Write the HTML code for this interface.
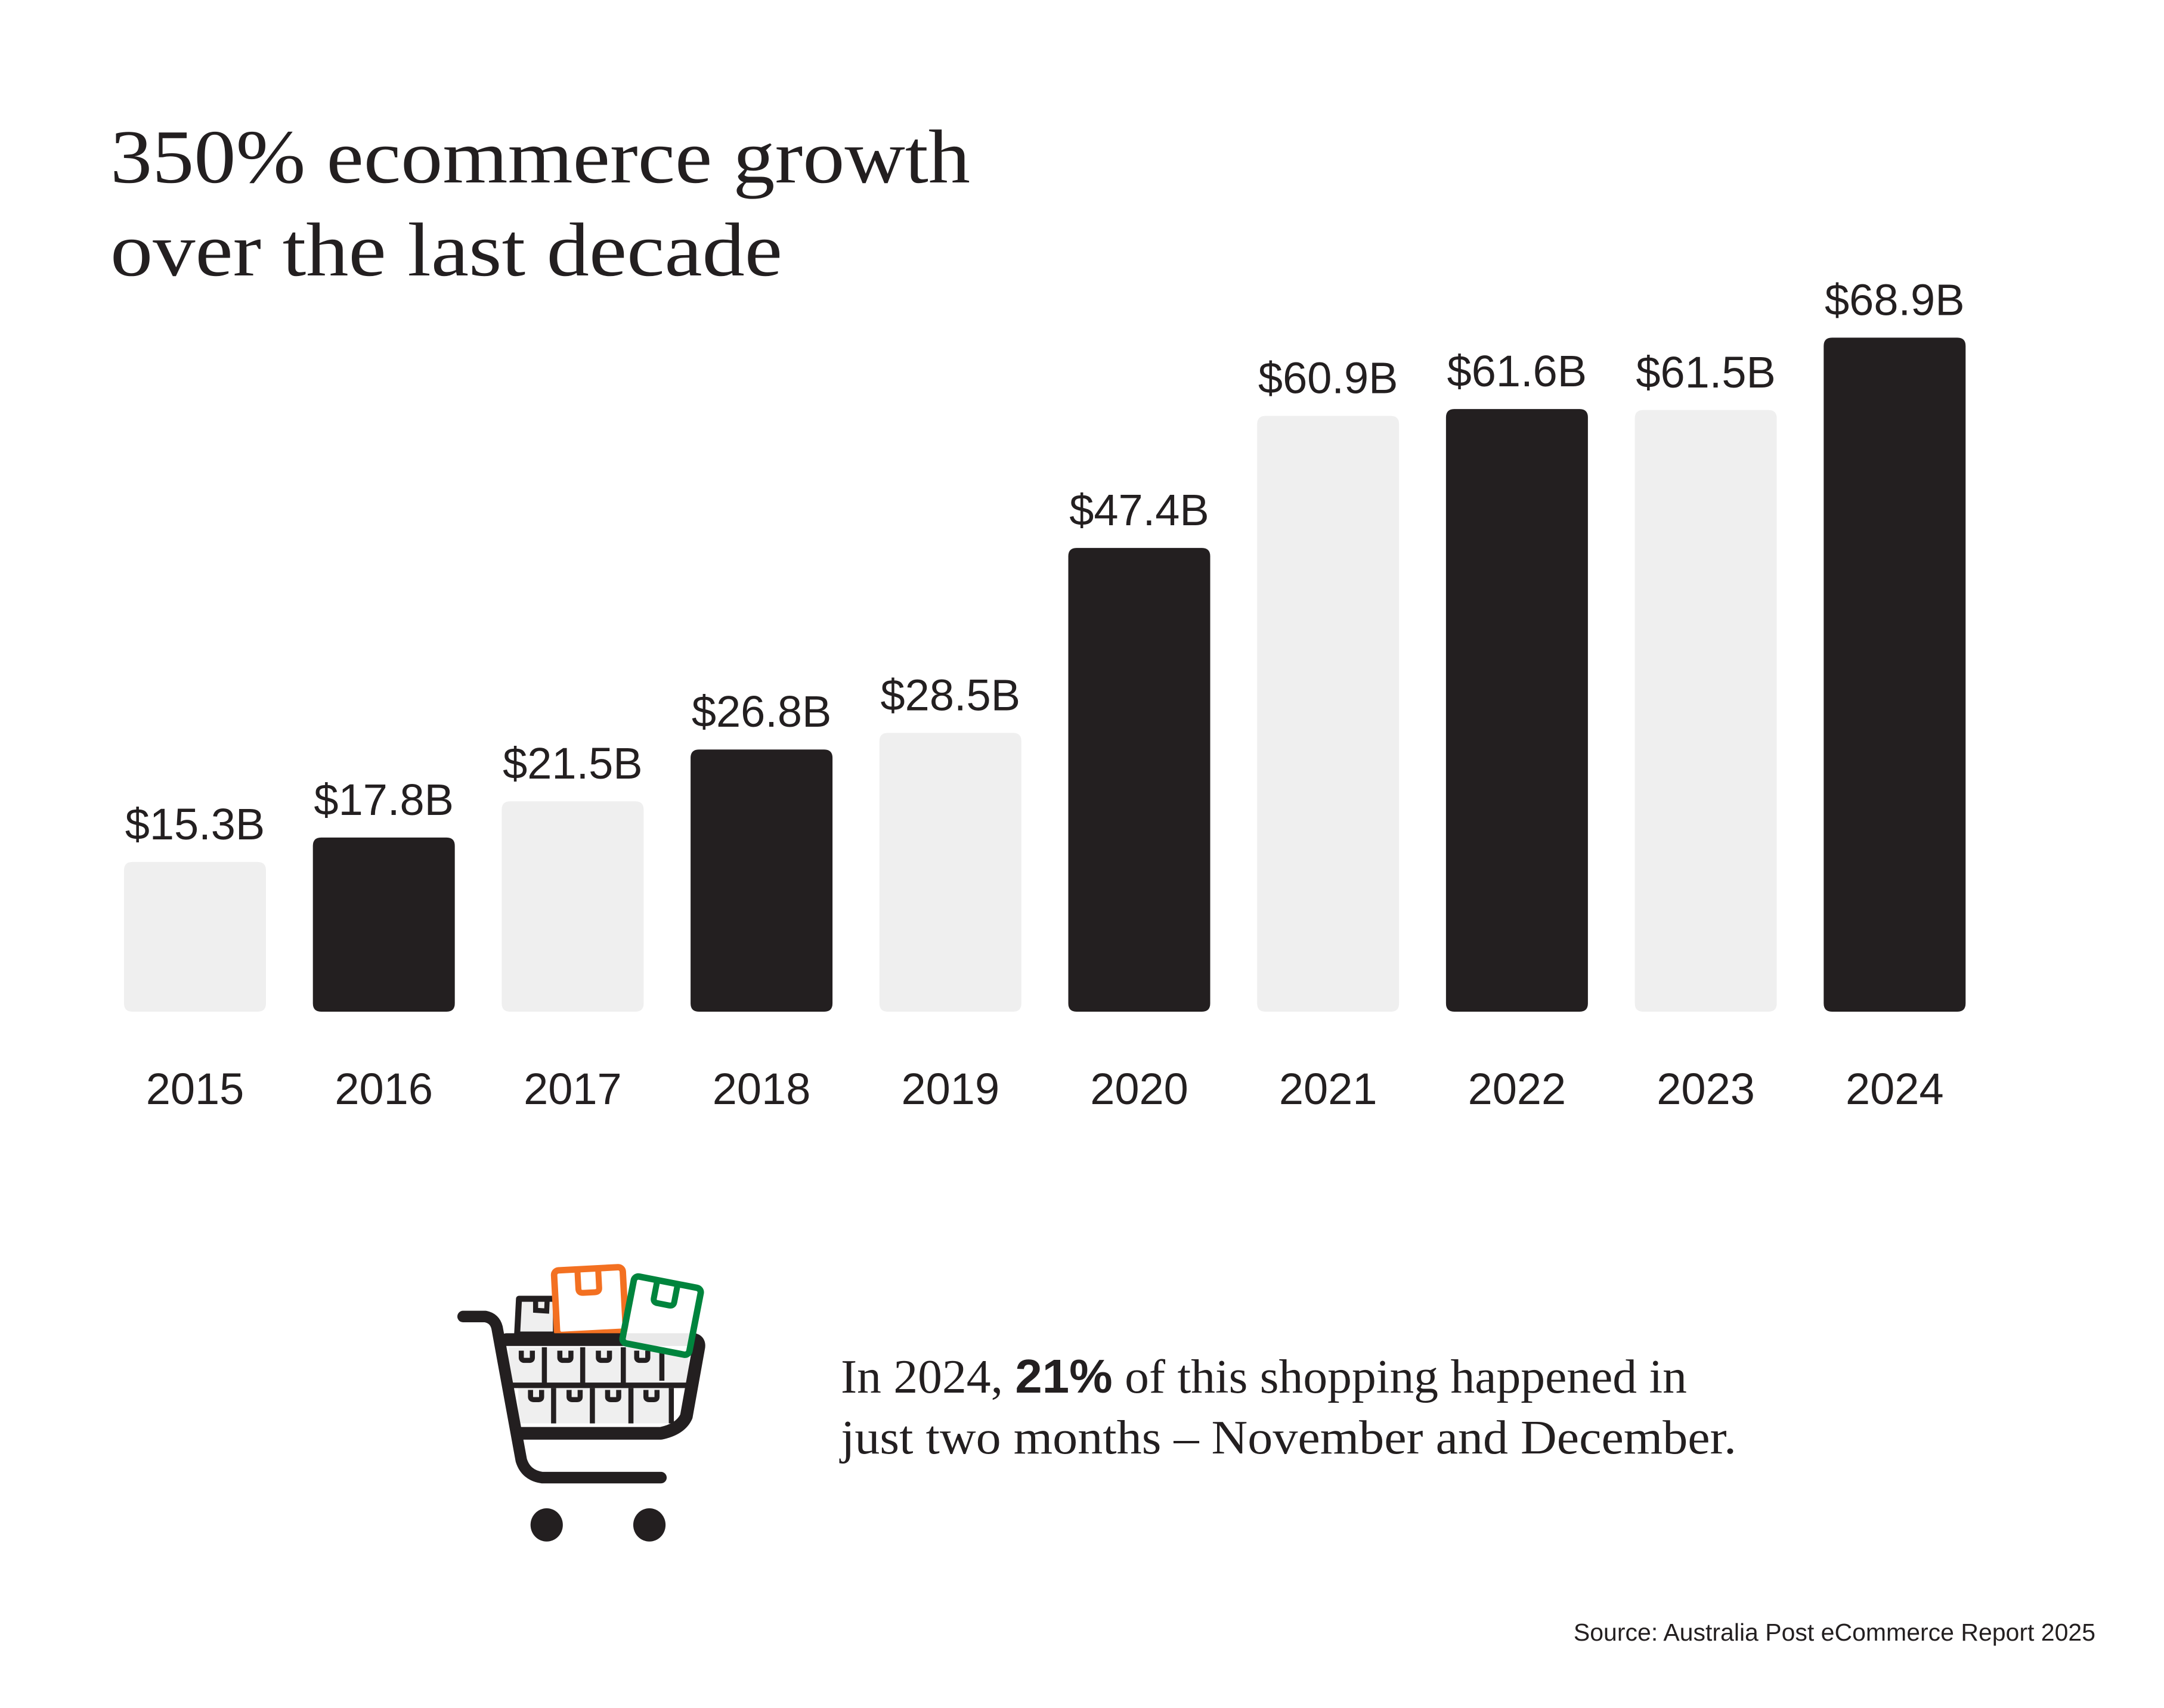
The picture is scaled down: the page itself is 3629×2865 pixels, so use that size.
<!DOCTYPE html>
<html><head><meta charset="utf-8"><style>
html,body{margin:0;padding:0;background:#fff}
svg{display:block}
</style></head><body>
<svg id="chart" width="3629" height="2865" viewBox="0 0 3629 2865" xmlns="http://www.w3.org/2000/svg">
<rect width="3629" height="2865" fill="#fff"/>
<g font-family="Liberation Serif, serif" fill="#231f20" font-size="128">
<text x="185" y="306" textLength="1442" lengthAdjust="spacingAndGlyphs">350% ecommerce growth</text>
<text x="185" y="462" textLength="1127" lengthAdjust="spacingAndGlyphs">over the last decade</text>
</g>
<g id="bars"></g>
<g transform="translate(700,2045) scale(0.3871)">
<path d="M440,345 L600,345 L600,500 L432,500 Z" fill="#efefef" stroke="#231f20" stroke-width="26" stroke-linejoin="round"/>
<path d="M512,345 L512,395 L560,398 L562,350" fill="none" stroke="#231f20" stroke-width="22"/>
<g transform="rotate(-3 745 350)">
<rect x="598" y="215" width="298" height="280" rx="20" fill="#fff" stroke="#f37021" stroke-width="28"/>
<path d="M700,215 L700,300 Q700,318 720,318 L770,318 Q790,318 790,300 L790,215" fill="none" stroke="#f37021" stroke-width="26"/>
</g>
<rect x="395" y="555" width="780" height="155" fill="#efefef"/>
<rect x="437" y="732" width="672" height="153" fill="#efefef"/>
<g stroke="#231f20" stroke-width="22" fill="none">
<path d="M550,555 L550,710 M716,555 L716,710 M892,555 L892,710 M1059,555 L1059,700 M590,732 L590,885 M758,732 L758,885 M925,732 L925,885 M1100,732 L1100,885"/>
<path d="M400,720 L1170,720" stroke-width="24"/>
<path d="M450,570 L450,600 Q450,612 465,612 L485,612 Q498,612 498,600 L498,570 M617,570 L617,600 Q617,612 632,612 L652,612 Q665,612 665,600 L665,570 M784,570 L784,600 Q784,612 799,612 L819,612 Q832,612 832,600 L832,570 M950,570 L950,600 Q950,612 965,612 L985,612 Q998,612 998,600 L998,570"/>
<path d="M490,740 L490,770 Q490,782 505,782 L525,782 Q538,782 538,770 L538,740 M657,740 L657,770 Q657,782 672,782 L692,782 Q705,782 705,770 L705,740 M824,740 L824,770 Q824,782 839,782 L859,782 Q872,782 872,770 L872,740 M990,740 L990,770 Q990,782 1005,782 L1025,782 Q1038,782 1038,770 L1038,740"/>
</g>
<g stroke="#231f20" stroke-linecap="round" stroke-linejoin="round" fill="none">
<path d="M198,422 L295,422 Q335,430 345,470 L450,1045 Q470,1110 540,1120 L1055,1120" stroke-width="50"/>
<path d="M385,522 L1200,522 Q1225,530 1218,560 L1165,855 Q1140,910 1055,928 L440,928" stroke-width="55"/>
</g>
<g transform="rotate(11 1055 420)">
<rect x="910" y="270" width="295" height="295" rx="20" fill="#fff" fill-opacity="0.9" stroke="#00843d" stroke-width="28"/>
<path d="M1010,270 L1010,350 Q1010,368 1030,368 L1080,368 Q1100,368 1100,350 L1100,270" fill="none" stroke="#00843d" stroke-width="26"/>
</g>
<ellipse cx="560" cy="1325" rx="70" ry="72" fill="#231f20"/>
<ellipse cx="1005" cy="1325" rx="70" ry="72" fill="#231f20"/>
</g>
<g font-family="Liberation Serif, serif" fill="#231f20" font-size="80">
<text x="1410" y="2336" textLength="1419" lengthAdjust="spacingAndGlyphs">In 2024, <tspan font-family="Liberation Sans, sans-serif" font-weight="bold">21%</tspan> of this shopping happened in</text>
<text x="1410" y="2438" textLength="1502" lengthAdjust="spacingAndGlyphs">just two months – November and December.</text>
</g>
<text x="3514" y="2752" text-anchor="end" font-family="Liberation Sans, sans-serif" font-size="41" fill="#231f20">Source: Australia Post eCommerce Report 2025</text>
</svg>
<script>
const years = ["2015","2016","2017","2018","2019","2020","2021","2022","2023","2024"];
const values = [15.3,17.8,21.5,26.8,28.5,47.4,60.9,61.6,61.5,68.9];
const valueLabels = ["$15.3B","$17.8B","$21.5B","$26.8B","$28.5B","$47.4B","$60.9B","$61.6B","$61.5B","$68.9B"];
const dark = [false,true,false,true,false,true,false,true,false,true];

const NS = "http://www.w3.org/2000/svg";
const g = document.getElementById("bars");
const baseY = 1697, x0 = 208, step = 316.7, bw = 238, pxPer = 16.41;
function xPos(i){ return x0 + i*step; }
function yPos(v){ return baseY - v*pxPer; }
years.forEach((yr,i)=>{
  const x = xPos(i), top = yPos(values[i]);
  const p = document.createElementNS(NS,"path");
  const r = 14;
  p.setAttribute("d",`M${x},${baseY-r} L${x},${top+r} Q${x},${top} ${x+r},${top} L${x+bw-r},${top} Q${x+bw},${top} ${x+bw},${top+r} L${x+bw},${baseY-r} Q${x+bw},${baseY} ${x+bw-r},${baseY} L${x+r},${baseY} Q${x},${baseY} ${x},${baseY-r} Z`);
  p.setAttribute("fill", dark[i] ? "#231f20" : "#efefef");
  
  
  g.appendChild(p);
  const t = document.createElementNS(NS,"text");
  t.setAttribute("x", x + bw/2);
  t.setAttribute("y", top - 38);
  t.setAttribute("text-anchor","middle");
  t.setAttribute("font-family","Liberation Sans, sans-serif");
  t.setAttribute("font-size","74");
  t.setAttribute("fill","#231f20");
  t.textContent = valueLabels[i];
  
  
  g.appendChild(t);
  const yl = document.createElementNS(NS,"text");
  yl.setAttribute("x", x + bw/2);
  yl.setAttribute("y", 1852);
  yl.setAttribute("text-anchor","middle");
  yl.setAttribute("font-family","Liberation Sans, sans-serif");
  yl.setAttribute("font-size","74");
  yl.setAttribute("fill","#231f20");
  yl.textContent = yr;
  
  
  g.appendChild(yl);
});
</script>
</body></html>
